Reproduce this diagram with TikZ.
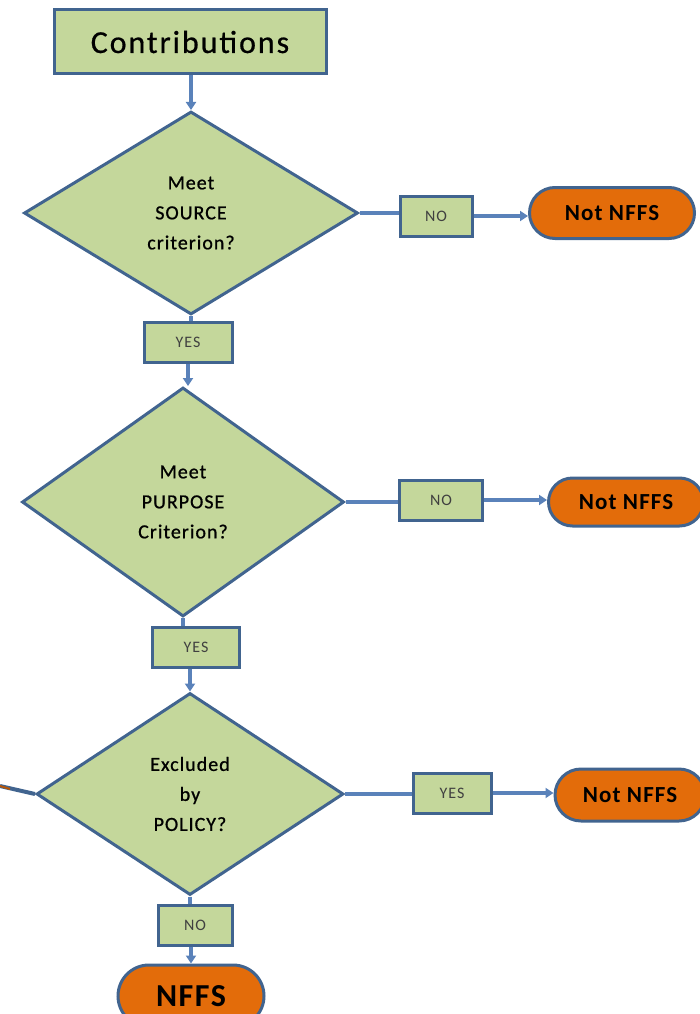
\documentclass[tikz,border=0pt]{standalone}
\usepackage{fontspec}
\setmainfont{Carlito}
\usetikzlibrary{shapes.geometric,shapes.misc,arrows.meta}
\definecolor{boxgreen}{HTML}{C4D79B}
\definecolor{bord}{HTML}{41648F}
\definecolor{arrowblue}{HTML}{5A82BA}
\definecolor{termorange}{HTML}{E36C0A}
\newcommand{\spaced}[1]{\addfontfeature{LetterSpace=#1}}
\newcommand{\heavier}[1]{\addfontfeature{FakeBold=#1}}
\tikzset{
  box/.style={draw=bord, line width=3pt, fill=boxgreen, inner sep=0pt, text=black!75, font=\fontsize{16}{18}\selectfont\spaced{6}},
  startbox/.style={draw=bord, line width=3pt, fill=boxgreen, inner sep=0pt, font=\fontsize{32}{36}\selectfont\spaced{6}\heavier{0.6}},
  decision/.style={diamond, draw=bord, line width=3pt, fill=boxgreen, inner sep=0pt, align=center, font=\fontsize{20}{30}\selectfont\spaced{5}\heavier{0.8}},
  term/.style={rounded rectangle, draw=bord, line width=3pt, fill=termorange, inner sep=0pt, font=\bfseries\fontsize{23}{26}\selectfont\spaced{5}},
  conn/.style={draw=arrowblue, line width=3.2pt},
  arr/.style={conn, -{Triangle[length=8pt,width=10pt]}},
}
\begin{document}
\begin{tikzpicture}[x=1pt,y=-1pt]
\useasboundingbox (0,0) rectangle (700,1014);
\node[startbox, minimum width=272pt, minimum height=64pt] (contrib) at (190,42) {Contributions};
\node[decision, minimum width=334pt, minimum height=203pt] (d1) at (191,213) {Meet\\SOURCE\\criterion?};
\node[box, minimum width=72pt, minimum height=40pt] (no1) at (436,216) {NO};
\node[term, minimum width=165pt, minimum height=51pt] (t1) at (612,213) {Not NFFS};
\node[box, minimum width=88pt, minimum height=40pt] (yes1) at (188,342) {YES};
\node[decision, minimum width=322pt, minimum height=229pt] (d2) at (183,502) {Meet\\PURPOSE\\Criterion?};
\node[box, minimum width=83pt, minimum height=40pt] (no2) at (441,500) {NO};
\node[term, minimum width=155pt, minimum height=48pt] (t2) at (626,502) {Not NFFS};
\node[box, minimum width=87pt, minimum height=40pt] (yes2) at (196,647) {YES};
\node[decision, minimum width=307pt, minimum height=202pt] (d3) at (190,794) {Excluded\\by\\POLICY?};
\node[box, minimum width=78pt, minimum height=40pt] (yes3) at (452,793) {YES};
\node[term, minimum width=150pt, minimum height=52pt] (t3) at (630,795) {Not NFFS};
\node[box, minimum width=74pt, minimum height=40pt] (no3) at (195,925) {NO};
\node[term, minimum width=146pt, minimum height=62pt, font=\bfseries\fontsize{32}{36}\selectfont\spaced{5}] (t4) at (191,996) {NFFS};
\coordinate (inleft) at (0,786);
\coordinate (inmid) at (10,789);

\draw[arr] (contrib.south -| d1.north) -- (d1.north);
\draw[conn] (d1.east) -- (d1.east -| no1.west);
\draw[arr] (no1.east) -- (no1.east -| t1.west);
\draw[conn] (d1.south) -- (d1.south |- yes1.north);
\draw[arr] (yes1.south) -- (yes1.south |- d2.north);
\draw[conn] (d2.east) -- (d2.east -| no2.west);
\draw[arr] (no2.east) -- (no2.east -| t2.west);
\draw[conn] (d2.south) -- (d2.south |- yes2.north);
\draw[arr] (yes2.south -| d3.north) -- (d3.north);
\draw[conn] (d3.east) -- (d3.east -| yes3.west);
\draw[arr] (yes3.east) -- (yes3.east -| t3.west);
\draw[conn] (d3.south) -- (d3.south |- no3.north);
\draw[arr] (no3.south -| t4.north) -- (t4.north);
\draw[draw=bord, line width=4pt] (inleft) -- (d3.west);
\draw[draw=termorange!80!black, line width=2pt] (inleft) -- (inmid);
\end{tikzpicture}
\end{document}
